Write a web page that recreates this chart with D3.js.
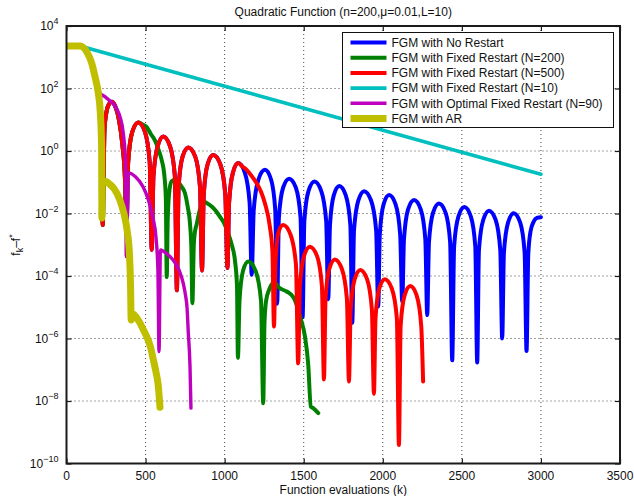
<!DOCTYPE html>
<html>
<head>
<meta charset="utf-8">
<script src="https://cdn.jsdelivr.net/npm/d3@7"></script>
<style>
body{margin:0;background:#fff;}
text{font-family:"Liberation Sans",Arial,Helvetica,sans-serif;fill:#111;}
</style>
</head>
<body>
<svg id="chart" width="634" height="496"></svg>
<script>
// axis ticks
var xTicks = [0, 500, 1000, 1500, 2000, 2500, 3000, 3500];
var yTickExp = [4, 2, 0, -2, -4, -6, -8, -10];

// common FGM path (before any restart), [evaluations, f_k - f*]
var fgmPath = [
  [0,2300],[85,2300],[128,1500],[159,650],[180,240],[201,71],[214,16],[222,1.3],[226,0.063],[229,4.3e-3],
  [240,4.7],[253,18],[269,32],[286,38],[307,28],[332,9.8],[354,1.5],[370,0.12],[379,2.0e-3],
  [390,0.45],[416,4.1],[454,8.1],[496,4.1],[526,0.45],[539,6.8e-4],
  [550,0.16],[576,1.4],[612,2.9],[655,1.4],[685,0.16],[698,3.5e-5],
  [709,0.072],[734,0.66],[770,1.3],[814,0.66],[844,0.072],[857,1.5e-4],
  [868,0.041],[892,0.37],[928,0.74],[973,0.37],[1004,0.041],[1018,1.8e-4],
  [1028,0.022],[1052,0.20],[1086,0.41]
];

// no restart
var blueTail = [
  [1128,0.20],[1158,0.022],[1171,1.1e-4],
  [1184,0.013],[1213,0.12],[1255,0.25],[1294,0.12],[1320,0.013],[1332,1.3e-5],
  [1343,7.4e-3],[1370,0.068],[1408,0.13],[1450,0.068],[1480,7.4e-3],[1493,4.8e-6],
  [1504,5.8e-3],[1530,0.052],[1568,0.105],[1611,0.052],[1642,5.8e-3],[1655,1.8e-5],
  [1666,4.2e-3],[1690,0.038],[1725,0.076],[1766,0.038],[1795,4.2e-3],[1807,3.2e-6],
  [1818,2.9e-3],[1845,0.026],[1882,0.052],[1926,0.026],[1958,2.9e-3],[1971,1.05e-5],
  [1981,2.1e-3],[2005,0.0195],[2040,0.039],[2081,0.0195],[2110,2.1e-3],[2123,1.5e-5],
  [2134,1.5e-3],[2160,0.0135],[2198,0.027],[2240,0.0135],[2269,1.5e-3],[2281,5.6e-6],
  [2292,1.2e-3],[2318,0.0107],[2355,0.021],[2397,0.0107],[2426,1.2e-3],[2439,2.0e-7],
  [2451,8.7e-4],[2478,7.9e-3],[2516,0.016],[2557,7.9e-3],[2585,8.7e-4],[2597,1.7e-7],
  [2608,6.8e-4],[2635,6.2e-3],[2672,0.0123],[2714,6.2e-3],[2743,6.8e-4],[2755,1.0e-6],
  [2766,5.6e-4],[2792,5.1e-3],[2828,0.0102],[2869,5.1e-3],[2897,5.6e-4],[2909,4.0e-7],
  [2920,5.0e-4],[2935,2.8e-3],[2955,5.6e-3],[2975,7.2e-3],[3000,7.6e-3]
];

// fixed restart N=200
var greenTail = [
  [478,7.2],[507,5.8],[533,3.5],[559,2.2],[585,1.0],[602,0.51],[618,0.18],[628,0.032],[634,9.3e-5],
  [640,6.3e-3],[650,0.050],[665,0.107],[686,0.12],[728,0.072],[749,0.045],[765,0.018],[782,4.0e-3],[790,6.3e-4],[796,1.35e-5],
  [805,1.0e-3],[812,2.5e-3],[823,4.5e-3],[845,0.014],[870,0.024],[890,0.021],[918,0.0166],[945,0.012],[970,7.9e-3],
  [1000,4.5e-3],[1023,2.3e-3],[1045,1.0e-3],[1065,3.2e-4],[1078,5.0e-5],[1084,2.4e-7],
  [1094,1.6e-5],[1116,1.45e-4],[1149,2.9e-4],[1196,1.45e-4],[1230,1.6e-5],[1244,8.5e-9],
  [1252,3.2e-6],[1262,1.6e-5],[1280,3.5e-5],[1300,5.6e-5],[1318,6.3e-5],[1335,4.7e-5],[1360,3.8e-5],[1392,3.2e-5],
  [1437,2.0e-5],[1460,1.0e-5],[1480,4.5e-6],[1508,1.15e-6],[1528,1.6e-7],[1545,6.6e-9],[1560,5.9e-9],[1592,4.1e-9]
];

// fixed restart N=500
var redTail = [
  [1112,0.32],[1139,0.25],[1170,0.16],[1202,0.093],[1230,0.050],[1255,0.021],[1286,3.8e-3],[1302,6.3e-4],[1312,2.4e-6],
  [1321,2.3e-4],[1340,2.5e-3],[1370,4.3e-3],[1417,2.1e-3],[1451,2.3e-4],[1465,1.6e-7],
  [1476,4.8e-5],[1502,4.4e-4],[1539,8.7e-4],[1584,4.4e-4],[1615,4.8e-5],[1628,4.9e-8],
  [1638,1.9e-5],[1662,1.7e-4],[1697,3.4e-4],[1741,1.7e-4],[1773,1.9e-5],[1786,4.2e-8],
  [1797,8.5e-6],[1822,7.8e-5],[1858,1.55e-4],[1901,7.8e-5],[1931,8.5e-6],[1944,1.7e-8],
  [1954,4.4e-6],[1978,4.0e-5],[2013,7.9e-5],[2057,4.0e-5],[2089,4.4e-6],[2102,3.9e-10],
  [2113,2.6e-6],[2138,2.4e-5],[2174,4.8e-5],[2214,2.4e-5],[2243,2.6e-6],[2255,4.2e-8]
];

// fixed restart N=10
var cyanTail = [[3000,0.18]];

// optimal fixed restart N=90
var magentaTail = [
  [200,100],[212,71],[243,55],[275,40],[296,32],[318,22],[338,12.6],[359,3.7],[374,0.41],[378,4.2e-4],
  [391,0.20],[436,0.15],[484,0.072],[518,0.027],[547,7.2e-3],[566,1.7e-3],[578,1.55e-4],[585,3.8e-7],
  [594,6.8e-4],[625,5.6e-4],[654,4.2e-4],[690,2.5e-4],[715,1.4e-4],[738,5.9e-5],[752,2.5e-5],[762,1.0e-5],
  [770,1.6e-6],[781,1.26e-7],[787,5.9e-9]
];

// adaptive restart
var yellowTail = [
  [224,7.2e-3],[226,0.11],[250,0.105],[275,0.085],[300,0.063],[325,0.038],[349,0.018],[370,7.1e-3],[385,2.5e-3],
  [398,5.0e-4],[405,5.0e-5],[409,3.9e-6],[413,6.0e-6],[422,6.0e-6],[445,4.5e-6],[465,3.1e-6],[486,1.9e-6],
  [507,1.15e-6],[530,5.6e-7],[549,2.1e-7],[565,8.9e-8],[580,3.2e-8],[591,6.3e-9]
];

function upTo(xmax){
  return fgmPath.filter(function(d){ return d[0] <= xmax; });
}

var series = [
  {name:"FGM with No Restart", color:"#0000ff", width:4, data:fgmPath.concat(blueTail)},
  {name:"FGM with Fixed Restart (N=200)", color:"#008000", width:4, data:upTo(454).concat(greenTail)},
  {name:"FGM with Fixed Restart (N=500)", color:"#ff0000", width:4, data:upTo(1086).concat(redTail)},
  {name:"FGM with Fixed Restart (N=10)", color:"#00bfbf", width:3.6, data:upTo(85).concat(cyanTail), straight:true},
  {name:"FGM with Optimal Fixed Restart (N=90)", color:"#bf00bf", width:3.4, data:upTo(180).concat(magentaTail)},
  {name:"FGM with AR", color:"#bfbf00", width:7, data:upTo(222).concat(yellowTail)}
];

var svg = d3.select("#chart");
var box = {left:66.5, top:26, right:620, bottom:463.5};

var x = d3.scaleLinear().domain([0,3500]).range([box.left, box.right]);
var y = d3.scaleLog().domain([1e-10,1e4]).range([box.bottom, box.top]);
var yTicks = yTickExp.map(function(e){ return Math.pow(10,e); });

svg.append("rect").attr("width",634).attr("height",496).attr("fill","#fff");

// grid
var grid = svg.append("g").attr("stroke","#444").attr("stroke-width",1).attr("stroke-dasharray","1,3");
grid.selectAll("line.gx").data(xTicks.slice(1,-1)).enter().append("line")
  .attr("x1",function(d){return x(d);}).attr("x2",function(d){return x(d);})
  .attr("y1",box.top).attr("y2",box.bottom);
grid.selectAll("line.gy").data(yTicks.slice(1,-1)).enter().append("line")
  .attr("y1",function(d){return y(d);}).attr("y2",function(d){return y(d);})
  .attr("x1",box.left).attr("x2",box.right);

// curves
svg.append("clipPath").attr("id","clip").append("rect")
  .attr("x",box.left).attr("y",box.top).attr("width",box.right-box.left).attr("height",box.bottom-box.top);

var line = d3.line().x(function(d){return x(d[0]);}).y(function(d){return y(d[1]);}).curve(d3.curveMonotoneX);
var straight = d3.line().x(function(d){return x(d[0]);}).y(function(d){return y(d[1]);});

var g = svg.append("g").attr("clip-path","url(#clip)");
series.forEach(function(s){
  g.append("path")
    .attr("d", s.straight ? straight(s.data) : line(s.data))
    .attr("fill","none")
    .attr("stroke",s.color)
    .attr("stroke-width",s.width)
    .attr("stroke-linejoin","round")
    .attr("stroke-linecap","round");
});

// axes (box + inward ticks)
var tick = 5;
svg.append("g").attr("transform","translate(0,"+box.bottom+")")
  .call(d3.axisBottom(x).tickValues(xTicks).tickSize(-tick).tickFormat(""));
svg.append("g").attr("transform","translate(0,"+box.top+")")
  .call(d3.axisTop(x).tickValues(xTicks).tickSize(-tick).tickFormat(""));
svg.append("g").attr("transform","translate("+box.left+",0)")
  .call(d3.axisLeft(y).tickValues(yTicks).tickSize(-tick).tickFormat(""));
svg.append("g").attr("transform","translate("+box.right+",0)")
  .call(d3.axisRight(y).tickValues(yTicks).tickSize(-tick).tickFormat(""));
svg.selectAll(".domain").remove();
svg.selectAll(".tick text").remove();
svg.selectAll(".tick line").attr("stroke","#1a1a1a").attr("stroke-width",1.2);

svg.append("rect").attr("x",box.left).attr("y",box.top)
  .attr("width",box.right-box.left).attr("height",box.bottom-box.top)
  .attr("fill","none").attr("stroke","#1a1a1a").attr("stroke-width",2);

// tick labels
svg.append("g").selectAll("text").data(xTicks).enter().append("text")
  .attr("x",function(d){return x(d);}).attr("y",box.bottom+16)
  .attr("text-anchor","middle").attr("font-size",12)
  .text(function(d){return d;});

var yl = svg.append("g").selectAll("text").data(yTickExp).enter().append("text")
  .attr("x",box.left-8).attr("y",function(d){return y(Math.pow(10,d))+4;})
  .attr("text-anchor","end").attr("font-size",12);
yl.append("tspan").text("10");
yl.append("tspan").attr("dy",-6).attr("font-size",9)
  .text(function(d){return d < 0 ? "\u2212"+(-d) : d;});

// title and axis labels
svg.append("text").attr("x",(box.left+box.right)/2).attr("y",16)
  .attr("text-anchor","middle").attr("font-size",12)
  .text("Quadratic Function (n=200,\u03bc=0.01,L=10)");

svg.append("text").attr("x",(box.left+box.right)/2).attr("y",494)
  .attr("text-anchor","middle").attr("font-size",12)
  .text("Function evaluations (k)");

var ylab = svg.append("text").attr("transform","translate(20,245) rotate(-90)")
  .attr("text-anchor","middle").attr("font-size",12);
ylab.append("tspan").text("f");
ylab.append("tspan").attr("font-size",9).attr("dy",3).text("k");
ylab.append("tspan").attr("dy",-3).text("\u2013f");
ylab.append("tspan").attr("font-size",9).attr("dy",-5).text("*");

// legend
var leg = svg.append("g");
leg.append("rect").attr("x",342.5).attr("y",32.5).attr("width",271).attr("height",95)
  .attr("fill","#fff").attr("stroke","#111").attr("stroke-width",1);
series.forEach(function(s,i){
  var ry = 42.5 + i*15.2;
  leg.append("line").attr("x1",350.5).attr("x2",386.5).attr("y1",ry).attr("y2",ry)
    .attr("stroke",s.color).attr("stroke-width",s.width);
  leg.append("text").attr("x",391.5).attr("y",ry+4.3).attr("font-size",12).text(s.name);
});
</script>
</body>
</html>
